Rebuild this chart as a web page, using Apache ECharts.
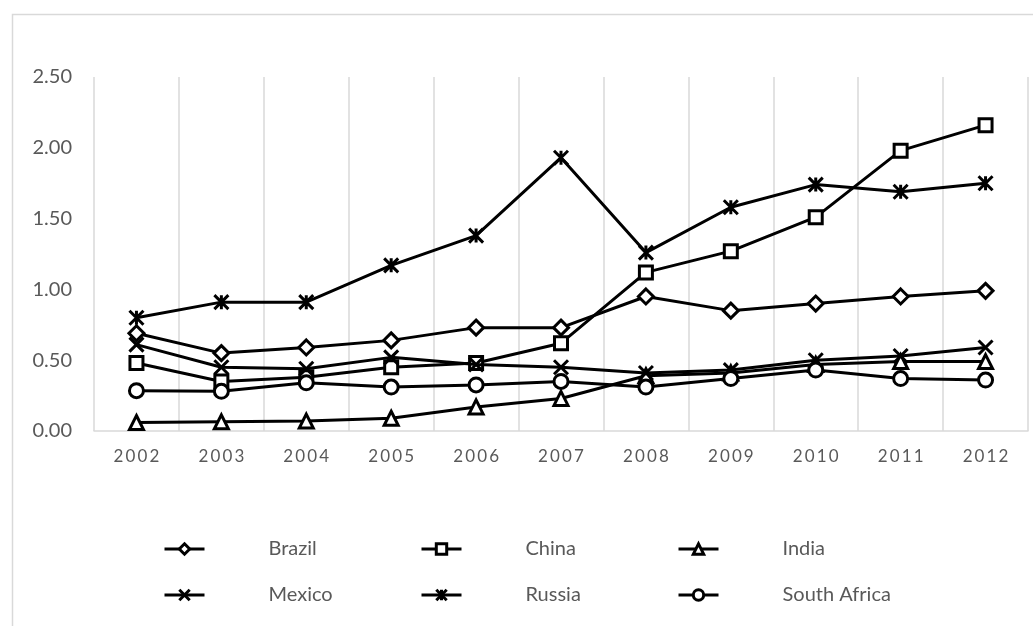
<!DOCTYPE html>
<html>
<head>
<meta charset="utf-8">
<script src="https://cdn.jsdelivr.net/npm/echarts@6/dist/echarts.min.js"></script>
<style>html,body{margin:0;padding:0;background:#fff}#c{width:1033px;height:626px}</style>
</head>
<body>
<div id="c"></div>
<script>
const years = ['2002','2003','2004','2005','2006','2007','2008','2009','2010','2011','2012'];
const yTicks = [0, 0.5, 1, 1.5, 2, 2.5];
const brazil = [0.69,0.55,0.59,0.64,0.73,0.73,0.95,0.85,0.90,0.95,0.99];
const china = [0.48,0.35,0.38,0.45,0.48,0.62,1.12,1.27,1.51,1.98,2.16];
const india = [0.06,0.065,0.07,0.09,0.17,0.23,0.39,0.41,0.47,0.49,0.49];
const mexico = [0.61,0.45,0.44,0.52,0.47,0.45,0.41,0.43,0.50,0.53,0.59];
const russia = [0.80,0.91,0.91,1.17,1.38,1.93,1.26,1.58,1.74,1.69,1.75];
const southAfrica = [0.285,0.28,0.34,0.31,0.325,0.35,0.31,0.37,0.43,0.37,0.36];

const names = ['Brazil','China','India','Mexico','Russia','South Africa'];
const values = [brazil, china, india, mexico, russia, southAfrica];
const symbols = ['diamond','rect','triangle',
  'path://M0,0L10,10M10,0L0,10',
  'path://M0,0L10,10M10,0L0,10M5,0L5,10',
  'circle'];
const sizes = [15, 13, 14, 14, 14, 14];
const fills = ['#fff','#fff','#fff','#000','#000','#fff'];

const font = 'Lato, "Noto Sans", sans-serif';
const txt = '#595959';

const series = names.map((n, i) => ({
  name: n,
  type: 'line',
  data: values[i],
  symbol: symbols[i],
  symbolSize: sizes[i],
  showAllSymbol: true,
  lineStyle: {color: '#000', width: 3},
  itemStyle: {color: fills[i], borderColor: '#000', borderWidth: 3},
  emphasis: {disabled: true},
  z: 2 + i
}));

const legendPos = [
  [158, 547], [415, 547], [672, 547],
  [158, 593], [415, 593], [672, 593]
];
const legends = names.map((n, i) => ({
  data: [n],
  left: legendPos[i][0],
  top: legendPos[i][1] - 13,
  itemWidth: 40,
  itemHeight: 13,
  selectedMode: false,
  lineStyle: {width: 3, color: '#000'},
  itemStyle: {borderWidth: 3, borderColor: '#000'},
  textStyle: {fontFamily: font, fontSize: 20, color: txt, padding: [0, 0, 0, 59]}
}));

const chart = echarts.init(document.getElementById('c'));
chart.setOption({
  animation: false,
  backgroundColor: '#fff',
  graphic: [{
    type: 'rect', z: -10, silent: true,
    shape: {x: 12.5, y: 14.5, width: 1200, height: 800},
    style: {fill: 'none', stroke: '#d9d9d9', lineWidth: 1.5}
  }],
  grid: {left: 94, right: 5, top: 77, bottom: 195},
  legend: legends,
  xAxis: {
    type: 'category',
    data: years,
    boundaryGap: true,
    axisLine: {lineStyle: {color: '#d9d9d9', width: 1.5}},
    axisTick: {show: false},
    splitLine: {show: true, lineStyle: {color: '#d9d9d9', width: 1.5}},
    axisLabel: {
      margin: 17, fontFamily: font, fontSize: 17, color: txt,
      formatter: v => v.split('').join('\u2009')
    }
  },
  yAxis: {
    type: 'value',
    min: yTicks[0], max: yTicks[yTicks.length - 1], interval: 0.5,
    axisLine: {show: false},
    axisTick: {show: false},
    splitLine: {show: false},
    axisLabel: {
      margin: 22, fontFamily: font, fontSize: 20, color: txt,
      formatter: v => v.toFixed(2)
    }
  },
  series: series
});
</script>
</body>
</html>
